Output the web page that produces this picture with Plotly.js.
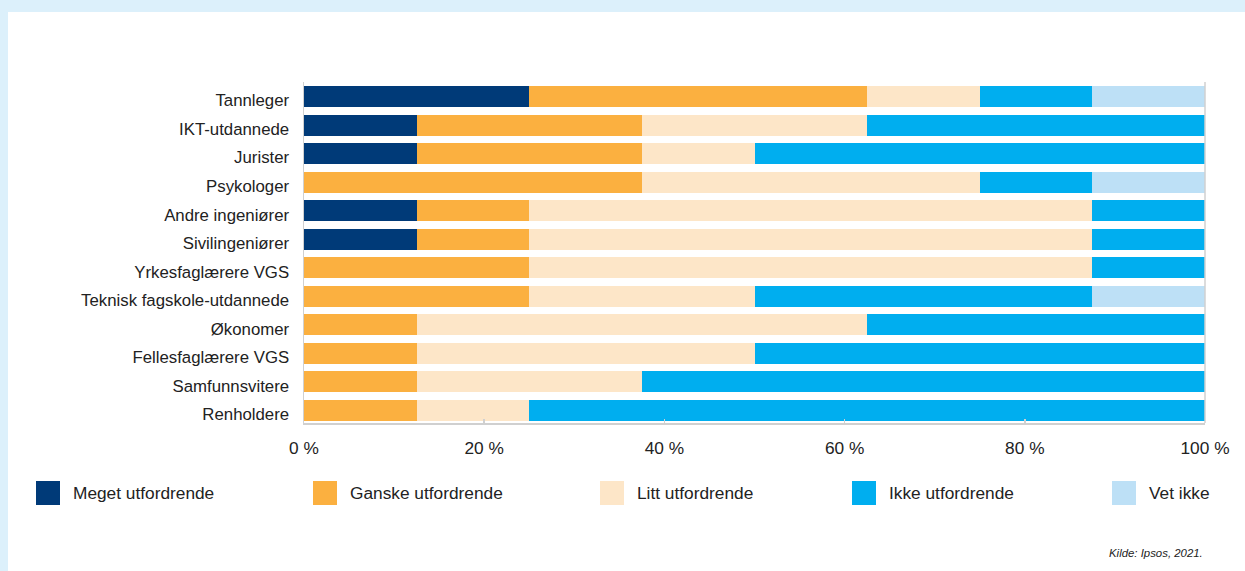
<!DOCTYPE html>
<html>
<head>
<meta charset="utf-8">
<script src="https://cdn.plot.ly/plotly-3.0.1.min.js"></script>
<style>
  html, body { margin: 0; padding: 0; background: #dcf0fb; }
  #panel { position: absolute; left: 8px; top: 12px; width: 1237px; height: 559px; background: #ffffff; }
  #chart { position: absolute; left: 0; top: 0; width: 1245px; height: 571px; }
</style>
</head>
<body>
<div id="panel"></div>
<div id="chart"></div>
<script>
// Categories (top to bottom as displayed)
const categories = [
  "Tannleger", "IKT-utdannede", "Jurister", "Psykologer", "Andre ingeniører",
  "Sivilingeniører", "Yrkesfaglærere VGS", "Teknisk fagskole-utdannede",
  "Økonomer", "Fellesfaglærere VGS", "Samfunnsvitere", "Renholdere"
];
const seriesNames = ["Meget utfordrende", "Ganske utfordrende", "Litt utfordrende", "Ikke utfordrende", "Vet ikke"];
const seriesColors = ["#003a78", "#fbb040", "#fde6c8", "#00aeef", "#bde0f6"];

// Values in percent, same order as categories
const meget  = [25,   12.5, 12.5, 0,    12.5, 12.5, 0,    0,    0,    0,    0,    0];
const ganske = [37.5, 25,   25,   37.5, 12.5, 12.5, 25,   25,   12.5, 12.5, 12.5, 12.5];
const litt   = [12.5, 25,   12.5, 37.5, 62.5, 62.5, 62.5, 25,   50,   37.5, 25,   12.5];
const ikke   = [12.5, 37.5, 50,   12.5, 12.5, 12.5, 12.5, 37.5, 37.5, 50,   62.5, 75];
const vetIkke= [12.5, 0,    0,    12.5, 0,    0,    0,    12.5, 0,    0,    0,    0];
const seriesValues = [meget, ganske, litt, ikke, vetIkke];

const xTicks = [0, 20, 40, 60, 80, 100];
const source = "Kilde: Ipsos, 2021.";

const traces = seriesNames.map((name, i) => ({
  type: "bar",
  orientation: "h",
  name: name,
  x: seriesValues[i],
  y: categories,
  marker: { color: seriesColors[i], line: { width: 0 } },
  width: 0.736,
  hoverinfo: "skip",
  showlegend: false
}));

// Layout geometry (pixels)
const W = 1245, H = 571;
const plotL = 304, plotR = 1205, plotT = 82, plotB = 423;
const pw = plotR - plotL, ph = plotB - plotT;
const px2x = p => (p - plotL) / pw;
const py2y = p => (plotB - p) / ph;

const legendLeft = [36, 313, 600, 852, 1112];
const legSq = 24, legCy = 493;
const FONT = "Liberation Sans, Arial, sans-serif";

const shapes = [
  { type: "line", xref: "paper", yref: "paper", x0: 1, x1: 1, y0: 0, y1: 1,
    line: { color: "#d0d0d0", width: 1.5 } }
];
const annotations = [];
seriesNames.forEach((name, i) => {
  shapes.push({
    type: "rect", xref: "paper", yref: "paper",
    x0: px2x(legendLeft[i]), x1: px2x(legendLeft[i] + legSq),
    y0: py2y(legCy + legSq / 2), y1: py2y(legCy - legSq / 2),
    fillcolor: seriesColors[i], line: { width: 0 }
  });
  annotations.push({
    xref: "paper", yref: "paper",
    x: px2x(legendLeft[i] + legSq + 11), y: py2y(legCy),
    xanchor: "left", yanchor: "middle", showarrow: false,
    text: name, font: { size: 17.3, color: "#222222", family: FONT }
  });
});
annotations.push({
  xref: "paper", yref: "paper",
  x: px2x(1205), y: py2y(553),
  xanchor: "right", yanchor: "middle", showarrow: false,
  text: "<i>" + source + "</i>",
  font: { size: 11.4, color: "#222222", family: FONT }
});

const layout = {
  width: W, height: H,
  barmode: "stack",
  paper_bgcolor: "rgba(0,0,0,0)",
  plot_bgcolor: "#ffffff",
  margin: { l: plotL, r: W - plotR, t: plotT, b: H - plotB, pad: 0 },
  font: { family: FONT, color: "#222222", size: 16 },
  xaxis: {
    range: [0, 100],
    tickvals: xTicks,
    ticktext: xTicks.map(v => v + " %"),
    ticks: "inside", ticklen: 4, tickcolor: "#d0d0d0", tickwidth: 1.5,
    showgrid: false, zeroline: false,
    showline: true, linecolor: "#d0d0d0", linewidth: 1.5,
    tickfont: { size: 17.3, color: "#222222" },
    ticklabelstandoff: 9,
    fixedrange: true
  },
  yaxis: {
    categoryorder: "array",
    categoryarray: categories.slice(),
    range: [11.438, -0.508],
    showgrid: false, zeroline: false,
    showline: true, linecolor: "#d0d0d0", linewidth: 1.5,
    ticks: "", ticklabelstandoff: 10, ticklabelshift: -4,
    tickfont: { size: 16.8, color: "#222222" },
    fixedrange: true
  },
  shapes: shapes,
  annotations: annotations,
  showlegend: false
};

Plotly.newPlot("chart", traces, layout, { displayModeBar: false, staticPlot: true });
</script>
</body>
</html>
